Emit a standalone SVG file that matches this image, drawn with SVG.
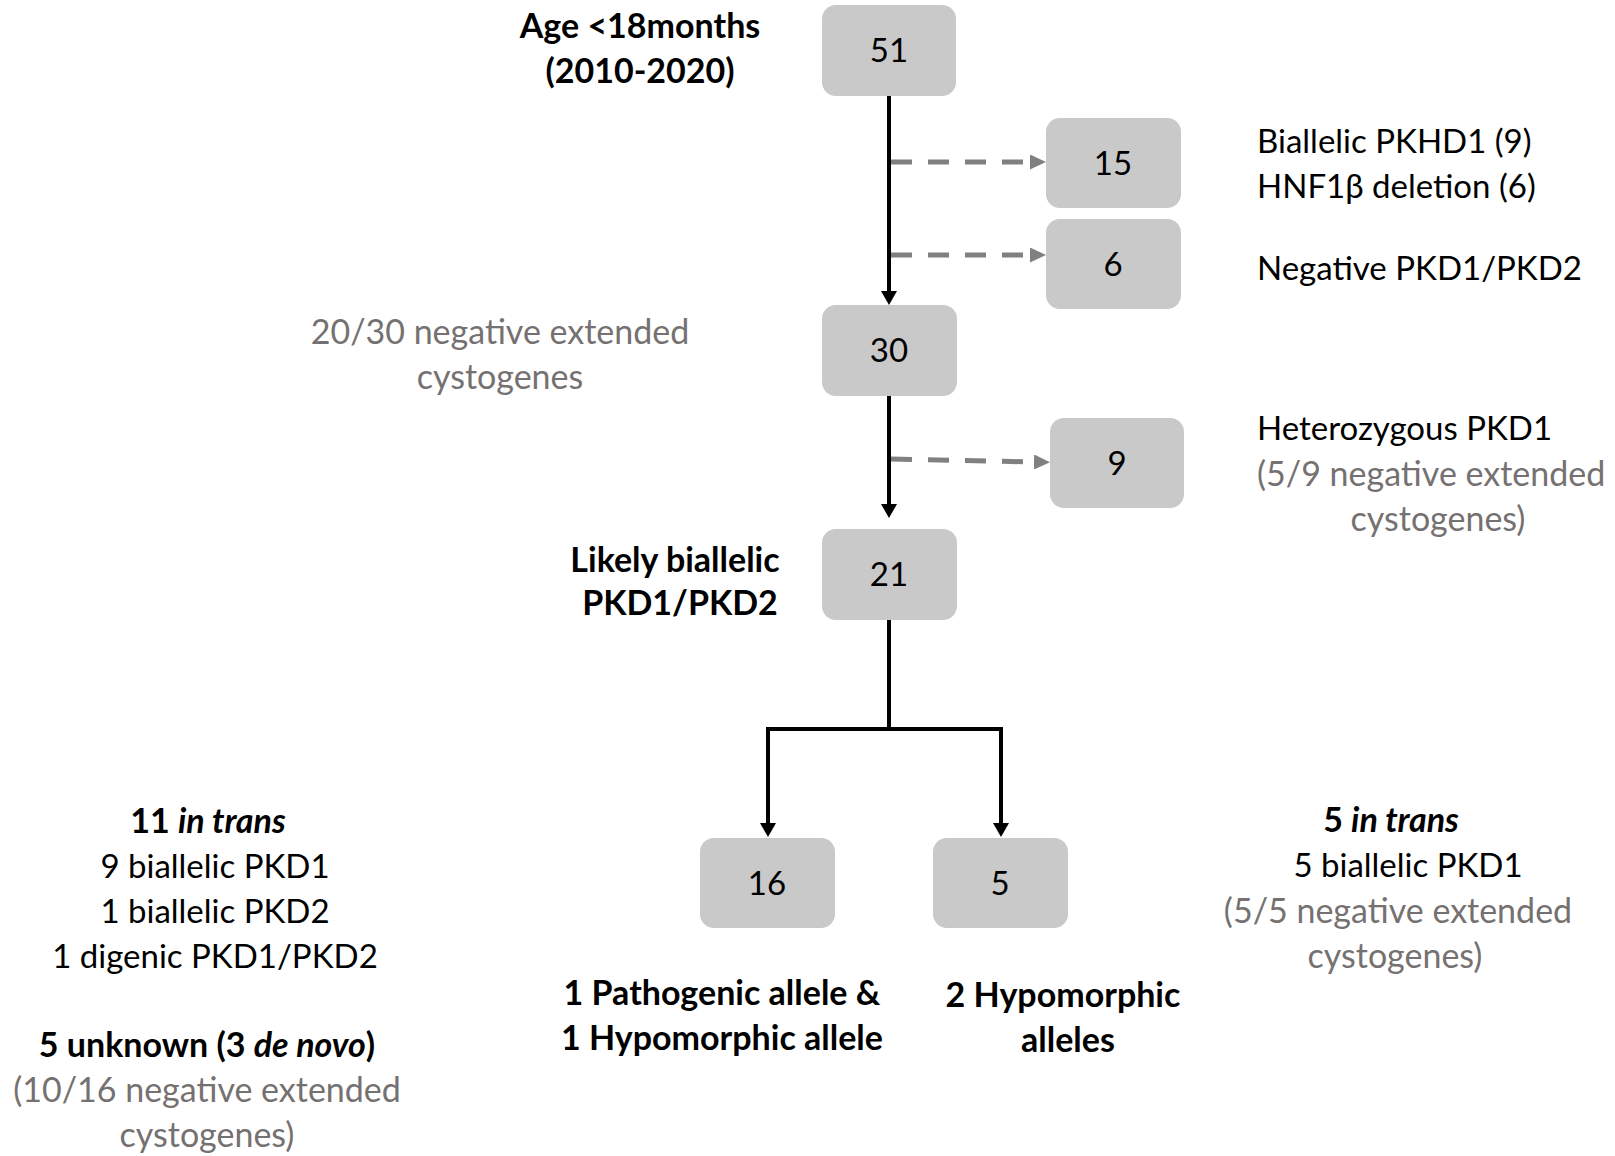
<svg xmlns="http://www.w3.org/2000/svg" width="1615" height="1156" viewBox="0 0 1615 1156">
<defs>
<style>
text{font-family:Lato,"Liberation Sans",sans-serif;font-size:33px;fill:#000}
.b{font-weight:bold;font-size:34px}
.g{fill:#767171;font-size:34px}
.n{font-size:33px;text-anchor:middle}
.m{text-anchor:middle}
.box{fill:#c9c9c9}
.solid{stroke:#000;stroke-width:4;fill:none}
.dash{stroke:#808080;stroke-width:5;stroke-dasharray:21 16;fill:none}
</style>
<marker id="ah" markerUnits="userSpaceOnUse" markerWidth="14" markerHeight="16" refX="4" refY="8" orient="auto">
<path d="M0,0 L14,8 L0,16 z" fill="#000"/>
</marker>
<marker id="gh" markerUnits="userSpaceOnUse" markerWidth="16" markerHeight="15" refX="0" refY="7.5" orient="auto">
<path d="M0,0 L16,7.5 L0,15 z" fill="#808080"/>
</marker>
</defs>
<rect width="1615" height="1156" fill="#fff"/>
<g id="connectors">
<path class="solid" d="M889,96 V295" marker-end="url(#ah)"/>
<path class="solid" d="M889,395 V508" marker-end="url(#ah)"/>
<path class="solid" d="M889,620 V729 M766,729 H1003"/>
<path class="solid" d="M768,727 V827" marker-end="url(#ah)"/>
<path class="solid" d="M1001,727 V827" marker-end="url(#ah)"/>
<path class="dash" d="M891,162 H1030" marker-end="url(#gh)"/>
<path class="dash" d="M891,255 H1030" marker-end="url(#gh)"/>
<path class="dash" d="M891,459 L1034,462" marker-end="url(#gh)"/>
</g>
<g id="n51"><rect class="box" x="822" y="5" width="134" height="91" rx="14"/><text class="n" x="889" y="62">51</text></g>
<g id="n15"><rect class="box" x="1046" y="118" width="135" height="90" rx="14"/><text class="n" x="1113" y="175">15</text></g>
<g id="n6"><rect class="box" x="1046" y="219" width="135" height="90" rx="14"/><text class="n" x="1113" y="276">6</text></g>
<g id="n30"><rect class="box" x="822" y="305" width="135" height="91" rx="14"/><text class="n" x="889" y="362">30</text></g>
<g id="n9"><rect class="box" x="1050" y="418" width="134" height="90" rx="14"/><text class="n" x="1117" y="475">9</text></g>
<g id="n21"><rect class="box" x="822" y="529" width="135" height="91" rx="14"/><text class="n" x="889" y="586">21</text></g>
<g id="n16"><rect class="box" x="700" y="838" width="135" height="90" rx="14"/><text class="n" x="767" y="895">16</text></g>
<g id="n5"><rect class="box" x="933" y="838" width="135" height="90" rx="14"/><text class="n" x="1000" y="895">5</text></g>
<g id="labels">
<text class="b m" x="640" y="38">Age &lt;18months</text>
<text class="b m" x="640" y="83">(2010-2020)</text>
<text class="g m" x="500" y="344">20/30 negative extended</text>
<text class="g m" x="500" y="389">cystogenes</text>
<text x="1257" y="153">Biallelic PKHD1 (9)</text>
<text x="1257" y="198">HNF1β deletion (6)</text>
<text x="1257" y="280">Negative PKD1/PKD2</text>
<text x="1257" y="440">Heterozygous PKD1</text>
<text class="g" x="1257" y="486">(5/9 negative extended</text>
<text class="g m" x="1438" y="531">cystogenes)</text>
<text class="b m" x="675" y="572">Likely biallelic</text>
<text class="b m" x="680" y="615">PKD1/PKD2</text>
<text class="b m" x="722" y="1005">1 Pathogenic allele &amp;</text>
<text class="b m" x="722" y="1050">1 Hypomorphic allele</text>
<text class="b m" x="1063" y="1007">2 Hypomorphic</text>
<text class="b m" x="1068" y="1052">alleles</text>
<text class="b m" x="208" y="833">11 <tspan font-style="italic">in trans</tspan></text>
<text class="m" x="215" y="878">9 biallelic PKD1</text>
<text class="m" x="215" y="923">1 biallelic PKD2</text>
<text class="m" x="215" y="968">1 digenic PKD1/PKD2</text>
<text class="b m" x="207" y="1057">5 unknown (3 <tspan font-style="italic">de novo</tspan>)</text>
<text class="g m" x="207" y="1102">(10/16 negative extended</text>
<text class="g m" x="207" y="1147">cystogenes)</text>
<text class="b m" x="1391" y="832">5 <tspan font-style="italic">in trans</tspan></text>
<text class="m" x="1408" y="877">5 biallelic PKD1</text>
<text class="g m" x="1398" y="923">(5/5 negative extended</text>
<text class="g m" x="1395" y="968">cystogenes)</text>
</g>
</svg>
